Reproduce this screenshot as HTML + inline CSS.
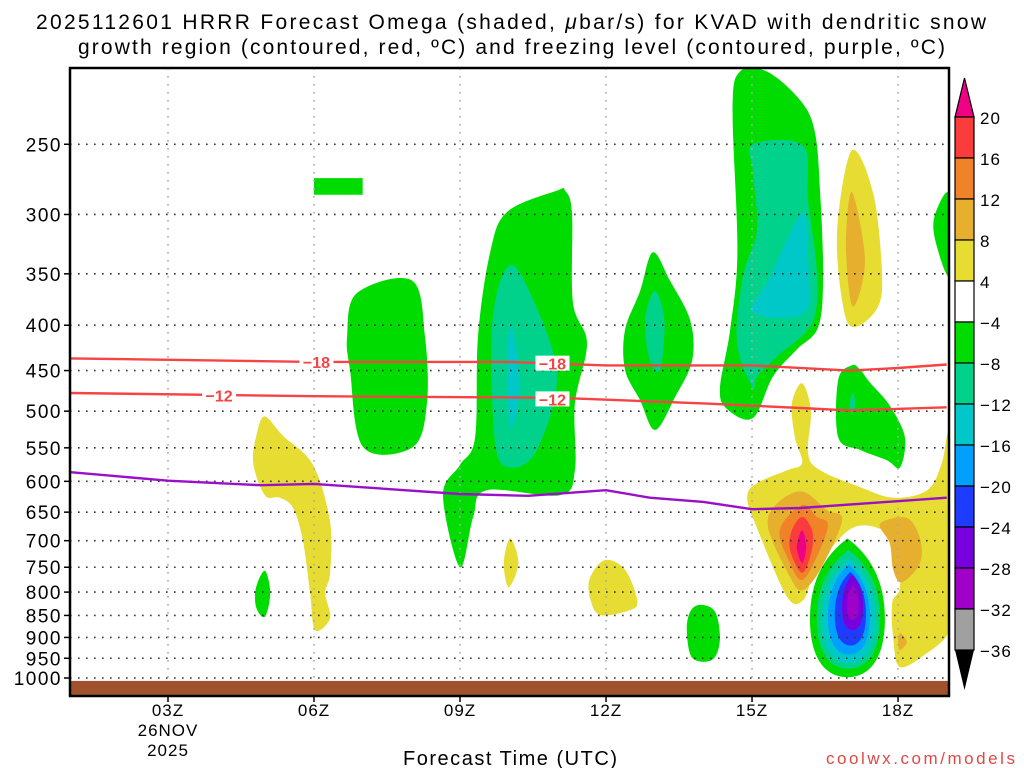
<!DOCTYPE html>
<html><head><meta charset="utf-8"><style>
html,body{margin:0;padding:0;background:#fff;width:1024px;height:768px;overflow:hidden}
svg text{font-family:"Liberation Sans",sans-serif}
</style></head><body>
<svg id="chart" width="1024" height="768" xmlns="http://www.w3.org/2000/svg">
<text x="36" y="29" font-size="21" textLength="950" lengthAdjust="spacing">2025112601 HRRR Forecast Omega (shaded, <tspan font-style="italic">μ</tspan>bar/s) for KVAD with dendritic snow</text>
<text x="78" y="54" font-size="21" textLength="867" lengthAdjust="spacing">growth region (contoured, red, ºC) and freezing level (contoured, purple, ºC)</text>
<g id="plot"></g>
<g id="axes"></g>
<g id="cbar"></g>
<text x="403" y="765" font-size="20" textLength="214" lengthAdjust="spacing">Forecast Time (UTC)</text>
<text x="826" y="764" font-size="17" textLength="189" lengthAdjust="spacing" fill="#e04848" font-family="Liberation Mono, monospace">coolwx.com/models</text>
</svg>
<script>
// ---- data ----
const pLevels=[250,300,350,400,450,500,550,600,650,700,750,800,850,900,950,1000];
const hourTicks=[3,6,9,12,15,18];
const hourLabels=['03Z','06Z','09Z','12Z','15Z','18Z'];
const cbarLevels=[20,16,12,8,4,-4,-8,-12,-16,-20,-24,-28,-32,-36];
const cbarColors=['#fa3c3c','#f08228','#e6af2d','#e6dc32','#ffffff','#00dc00','#00d28c','#00c8c8','#00a0ff','#1e3cff','#7800dc','#a000c8','#a0a0a0'];
const greenRect=[[6,273],[7,273],[7,285],[6,285]];
const blobs=[
 ['#00dc00',[[6.88,368],[8.01,356],[8.28,412],[8.32,490],[8.03,549],[7.01,549],[6.74,449],[6.68,412]]],
 ['#00dc00',[[10.99,282],[11.16,282],[11.3,299],[11.32,377],[11.61,419],[11.36,490],[11.36,583],[11.05,622],[9.55,614],[9.27,658],[9.0,750],[8.65,622],[9.0,575],[9.31,535],[9.37,412],[9.62,331],[9.97,298]]],
 ['#00d28c',[[9.97,344],[10.38,362],[10.99,453],[10.58,553],[10.03,579],[9.72,543],[9.66,400]]],
 ['#00c8c8',[[10.03,400],[10.18,434],[10.2,486],[10.03,522],[9.97,449]]],
 ['#e6dc32',[[4.83,529],[4.99,507],[5.36,533],[5.98,575],[6.33,667],[6.33,761],[6.23,802],[6.33,856],[6.02,883],[5.92,802],[5.77,699],[5.57,643],[5.3,626],[4.99,622],[4.75,572]]],
 ['#00dc00',[[4.99,757],[5.1,802],[4.99,853],[4.81,832],[4.81,790]]],
 ['#e6dc32',[[10.03,696],[10.2,742],[10.0,790],[9.9,742]]],
 ['#e6dc32',[[11.98,736],[12.39,755],[12.64,817],[12.5,838],[11.88,849],[11.67,812],[11.67,771]]],
 ['#00dc00',[[12.96,331],[13.31,356],[13.73,395],[13.77,438],[13.42,482],[13.01,525],[12.7,486],[12.39,449],[12.39,405],[12.7,366]]],
 ['#00d28c',[[13.0,366],[13.2,395],[13.11,449],[12.9,438],[12.8,395]]],
 ['#00dc00',[[13.93,827],[14.24,842],[14.34,906],[14.18,954],[13.77,949],[13.66,883],[13.73,842]]],
 ['#00dc00',[[14.75,207],[15.31,207],[15.99,223],[16.29,242],[16.4,284],[16.46,353],[16.36,402],[15.92,426],[15.43,457],[15.02,509],[14.5,498],[14.34,472],[14.55,405],[14.7,330],[14.6,229]]],
 ['#00d28c',[[15.02,250],[16.05,251],[16.15,289],[16.33,349],[16.23,398],[15.51,434],[15.1,457],[15.02,471],[14.69,419],[14.81,353],[15.1,312],[15.02,269]]],
 ['#00c8c8',[[16.03,299],[16.15,338],[16.09,387],[15.02,387],[15.37,353]]],
 ['#e6dc32',[[17.05,254],[17.49,284],[17.67,349],[17.57,383],[17.07,402],[16.85,375],[16.75,312]]],
 ['#e6af2d',[[17.05,283],[17.32,338],[17.07,381],[16.93,326]]],
 ['#00dc00',[[19.05,285],[18.76,300],[18.76,320],[19.05,351]]],
 ['#00dc00',[[17.05,444],[17.22,449],[17.42,464],[17.83,493],[18.14,535],[18.04,579],[17.77,568],[17.22,553],[16.77,535],[16.77,461]]],
 ['#00d28c',[[17.07,477],[17.12,490],[17.05,503],[17.01,490]]],
 ['#e6dc32',[[16.03,465],[16.21,500],[16.15,558],[16.4,583],[17.22,609],[17.9,626],[18.6,614],[18.9,572],[19.03,529],[19.08,600],[19.08,822],[19.03,890],[18.6,937],[18.04,972],[17.9,900],[17.88,823],[18.04,789],[17.98,705],[17.57,677],[17.07,677],[16.6,717],[16.25,769],[16.05,817],[15.72,810],[15.1,677],[14.9,626],[15.1,603],[15.72,583],[16.03,572],[15.88,535],[15.82,490]]],
 ['#e6af2d',[[16.03,616],[16.54,647],[16.85,664],[16.4,755],[16.03,796],[15.78,769],[15.33,677],[15.51,636]]],
 ['#f08228',[[16.03,638],[16.33,658],[16.56,672],[16.33,730],[16.03,775],[15.78,742],[15.57,681]]],
 ['#fa3c3c',[[16.03,658],[16.23,681],[16.23,717],[16.03,761],[15.78,717],[15.82,681]]],
 ['#f00082',[[16.03,681],[16.11,711],[16.03,742],[15.92,711]]],
 ['#e6af2d',[[17.63,670],[18.18,660],[18.45,696],[18.45,742],[18.08,780],[17.9,755],[17.83,705]]],
 ['#e6af2d',[[18.04,890],[18.18,911],[18.04,930],[18.0,911]]]
];
const cellColors=['#00dc00','#00d28c','#00c8c8','#00a0ff','#1e3cff','#7800dc','#a000c8'];
const cellLeft=[16.19,16.33,16.44,16.56,16.7,16.85,16.95];
const cellRight=[17.73,17.63,17.53,17.42,17.34,17.28,17.19];
const cellTop=[696,717,732,745,759,765,785];
const cellBottom=[998,976,962,941,919,883,860];
const m18Hours=[1,6,10,12,15,17,18,19];
const m18P=[436,440,440,444,444,450,447,443];
const m12Hours=[1,6,11,14,16,17,19];
const m12P=[477,481,483,490,496,499,495];
const frzHours=[1,3,4.9,6,9,10.4,12,12.9,14,15,16,19];
const frzP=[586,599,606,604,620,623,614,626,633,645,643,626];

const L=70,R=949,T=68,B=696;
function X(h){return 168+(h-3)*48.67;}
function Y(p){return 678-385*Math.log(1000/p);}
const NS='http://www.w3.org/2000/svg';
function el(tag,attrs,parent){const e=document.createElementNS(NS,tag);for(const k in attrs)e.setAttribute(k,attrs[k]);parent.appendChild(e);return e;}
function smooth(pts){
 const P=pts.map(q=>[X(q[0]),Y(q[1])]);const n=P.length;let d='M'+P[0][0].toFixed(1)+','+P[0][1].toFixed(1);
 for(let i=0;i<n;i++){const p0=P[(i-1+n)%n],p1=P[i],p2=P[(i+1)%n],p3=P[(i+2)%n];
  const c1=[p1[0]+(p2[0]-p0[0])/6,p1[1]+(p2[1]-p0[1])/6],c2=[p2[0]-(p3[0]-p1[0])/6,p2[1]-(p3[1]-p1[1])/6];
  d+='C'+c1[0].toFixed(1)+','+c1[1].toFixed(1)+' '+c2[0].toFixed(1)+','+c2[1].toFixed(1)+' '+p2[0].toFixed(1)+','+p2[1].toFixed(1);}
 return d+'Z';}
const plot=document.getElementById('plot');
const defs=el('defs',{},plot);
const cp=el('clipPath',{id:'clip'},defs);el('rect',{x:L,y:T,width:R-L,height:B-T},cp);
const g=el('g',{'clip-path':'url(#clip)'},plot);
const gr=el('polygon',{points:greenRect.map(q=>X(q[0])+','+Y(q[1])).join(' '),fill:'#00dc00'},g);


blobs.forEach((b,i)=>{const pth=el('path',{d:smooth(b[1]),fill:b[0]},g);
 
 });
cellColors.forEach((c,i)=>{
 const xl=X(cellLeft[i]),xr=X(cellRight[i]),yt=Y(cellTop[i]),yb=Y(cellBottom[i]),xc=(xl+xr)/2,h=yb-yt;
 const d=`M${xc},${yt} C${xc+(xr-xc)*0.6},${yt+h*0.12} ${xr},${yt+h*0.3} ${xr},${yt+h*0.58} C${xr},${yt+h*0.88} ${xc+(xr-xc)*0.55},${yb} ${xc},${yb} C${xc-(xc-xl)*0.55},${yb} ${xl},${yt+h*0.88} ${xl},${yt+h*0.58} C${xl},${yt+h*0.3} ${xc-(xc-xl)*0.6},${yt+h*0.12} ${xc},${yt}Z`;
 const pth=el('path',{d:d,fill:c},g);
 
 });
pLevels.forEach(p=>{const ln=el('line',{x1:L,x2:R,y1:Y(p),y2:Y(p),stroke:'#333','stroke-width':1.6,'stroke-dasharray':'1.6 6.4'},g);
 
 });
hourTicks.forEach(h=>{const ln=el('line',{x1:X(h),x2:X(h),y1:T,y2:B,stroke:'#aaa','stroke-width':1.6,'stroke-dasharray':'1.6 6.4'},g);
 
 });
const gnd=el('rect',{x:L,y:Y(1005)+1,width:R-L,height:B-Y(1005),fill:'#a0522d'},g);


function line(hs,ps,color,name){const d=hs.map((h,i)=>(i?'L':'M')+X(h).toFixed(1)+','+Y(ps[i]).toFixed(1)).join('');
 const pth=el('path',{d:d,fill:'none',stroke:color,'stroke-width':2.4},g);
 
 }
line(m18Hours,m18P,'#f64444','isotherm-minus18');
line(m12Hours,m12P,'#f64444','isotherm-minus12');
line(frzHours,frzP,'#9a10c8','freezing-level-line');
function clabel(h,p,t,name){const x=X(h),y=Y(p);
 el('rect',{x:x-17,y:y-8,width:34,height:15,fill:'#fff'},g);
 const tx=el('text',{x:x,y:y+6,'font-size':16,'font-weight':'bold',fill:'#f64444','text-anchor':'middle'},g);tx.textContent=t;
 
 }
clabel(6.05,440,'−18','label-minus18-a');clabel(10.9,442,'−18','label-minus18-b');
clabel(4.05,480,'−12','label-minus12-a');clabel(10.9,485,'−12','label-minus12-b');
const ax=document.getElementById('axes');
el('rect',{x:L,y:T,width:R-L,height:B-T,fill:'none',stroke:'#000','stroke-width':2.5},ax);
pLevels.forEach(p=>{el('line',{x1:L-6,x2:L,y1:Y(p),y2:Y(p),stroke:'#000','stroke-width':1.5},ax);
 const t=el('text',{x:L-8,y:Y(p)+7,'font-size':19,'letter-spacing':1.5,'text-anchor':'end'},ax);t.textContent=p;
 
 });
hourTicks.forEach((h,i)=>{el('line',{x1:X(h),x2:X(h),y1:B,y2:B+6,stroke:'#000','stroke-width':1.5},ax);
 const t=el('text',{x:X(h),y:716,'font-size':17,'letter-spacing':1,'text-anchor':'middle'},ax);t.textContent=hourLabels[i];
 
 });
const d1=el('text',{x:X(3),y:736,'font-size':17,'letter-spacing':1,'text-anchor':'middle'},ax);d1.textContent='26NOV';


const d2=el('text',{x:X(3),y:756,'font-size':17,'letter-spacing':1,'text-anchor':'middle'},ax);d2.textContent='2025';


const cb=document.getElementById('cbar');
const cx0=955,cw=19,top0=117,bh=41;
el('polygon',{points:`${cx0},${top0} ${cx0+cw},${top0} ${cx0+cw/2},78`,fill:'#f00082',stroke:'#000','stroke-width':1.2},cb);
cbarColors.forEach((c,i)=>{const r=el('rect',{x:cx0,y:top0+i*bh,width:cw,height:bh,fill:c,stroke:'#000','stroke-width':1.2},cb);
 
 });
const nb=cbarColors.length;
el('polygon',{points:`${cx0},${top0+nb*bh} ${cx0+cw},${top0+nb*bh} ${cx0+cw/2},690`,fill:'#000'},cb);
cbarLevels.forEach((v,i)=>{const t=el('text',{x:980,y:top0+i*bh+7,'font-size':17,'letter-spacing':1},cb);t.textContent=v<0?'−'+(-v):String(v);
 
 });
</script>
</body></html>
